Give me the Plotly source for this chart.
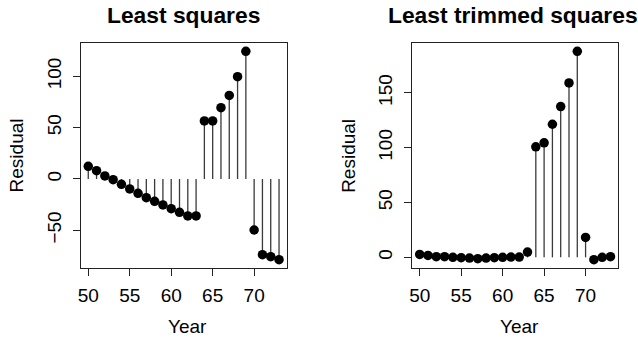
import plotly.graph_objects as go

years = list(range(50, 74))
ls_resid = [12.3, 8.1, 2.9, -0.7, -5.2, -9.7, -14.0, -18.2, -21.8, -25.3, -28.9, -32.5,
            -36.0, -36.0, 56.5, 56.5, 69.4, 81.4, 99.6, 124.3, -49.7, -73.7, -75.7, -78.6]
lts_resid = [2.7, 1.8, 0.6, 0.6, 0.0, -0.3, -0.6, -1.2, -0.6, -0.3, 0.0, 0.3,
             0.3, 4.8, 100.8, 104.5, 121.4, 137.5, 159.1, 187.9, 18.2, -2.1, 0.0, 0.6]
titles = ["Least squares", "Least trimmed squares"]
ls_ticks = [-50, 0, 50, 100]
lts_ticks = [0, 50, 100, 150]
x_ticks = [50, 55, 60, 65, 70]

W, H = 638, 340
FONT = "Liberation Sans, Arial, Helvetica, sans-serif"
FS = 19


def rng(vals):
    lo, hi = min(vals), max(vals)
    d = (hi - lo) * 0.04
    return [lo - d, hi + d]


fig = go.Figure()
panels = [
    (ls_resid, ls_ticks, "x", "y", (78, 285), 0),
    (lts_resid, lts_ticks, "x2", "y2", (411, 618), -2),
]
top, bottom = 43, 268

for i, (vals, yt, xa, ya, (l, r), tshift) in enumerate(panels):
    sx, sy = [], []
    for xv, yv in zip(years, vals):
        sx += [xv, xv, None]
        sy += [0, yv, None]
    fig.add_trace(go.Scatter(x=sx, y=sy, mode="lines", xaxis=xa, yaxis=ya,
                             line=dict(color="#3a3a3a", width=1.3), hoverinfo="skip",
                             showlegend=False))
    fig.add_trace(go.Scatter(x=years, y=vals, mode="markers", xaxis=xa, yaxis=ya,
                             marker=dict(color="black", size=9.5), showlegend=False))
    sfx = "" if i == 0 else "2"
    axcommon = dict(showline=True, linecolor="#222222", linewidth=1, mirror=True,
                    ticks="outside", ticklen=7, tickcolor="#222222", tickwidth=1,
                    showgrid=False, zeroline=False,
                    tickfont=dict(family=FONT, size=FS, color="black"))
    fig.layout["xaxis" + sfx] = dict(axcommon, domain=[l / W, r / W], range=rng(years),
                                     tickvals=x_ticks, anchor="y" + sfx,
                                     ticklabelstandoff=3)
    fig.layout["yaxis" + sfx] = dict(axcommon, domain=[1 - bottom / H, 1 - top / H],
                                     range=rng(vals), tickvals=yt, tickangle=-90,
                                     anchor="x" + sfx, ticklabelstandoff=4)
    cx = ((l + r) / 2 + tshift) / W
    fig.add_annotation(text="<b>%s</b>" % titles[i], x=cx, y=1 - 15 / H, xref="paper",
                       yref="paper", xanchor="center", yanchor="middle", showarrow=False,
                       font=dict(family=FONT, size=22.8, color="black"))
    fig.add_annotation(text="Year", x=(l + r + 8) / 2 / W, y=1 - 326 / H, xref="paper",
                       yref="paper", xanchor="center", yanchor="middle", showarrow=False,
                       font=dict(family=FONT, size=FS, color="black"))
    fig.add_annotation(text="Residual", x=(l - 64) / W, y=1 - 155.5 / H, xref="paper",
                       yref="paper", xanchor="center", yanchor="middle", showarrow=False,
                       textangle=-90, font=dict(family=FONT, size=FS, color="black"))

fig.update_layout(width=W, height=H, margin=dict(l=0, r=0, t=0, b=0),
                  paper_bgcolor="white", plot_bgcolor="white")
fig.write_html("out.html")
